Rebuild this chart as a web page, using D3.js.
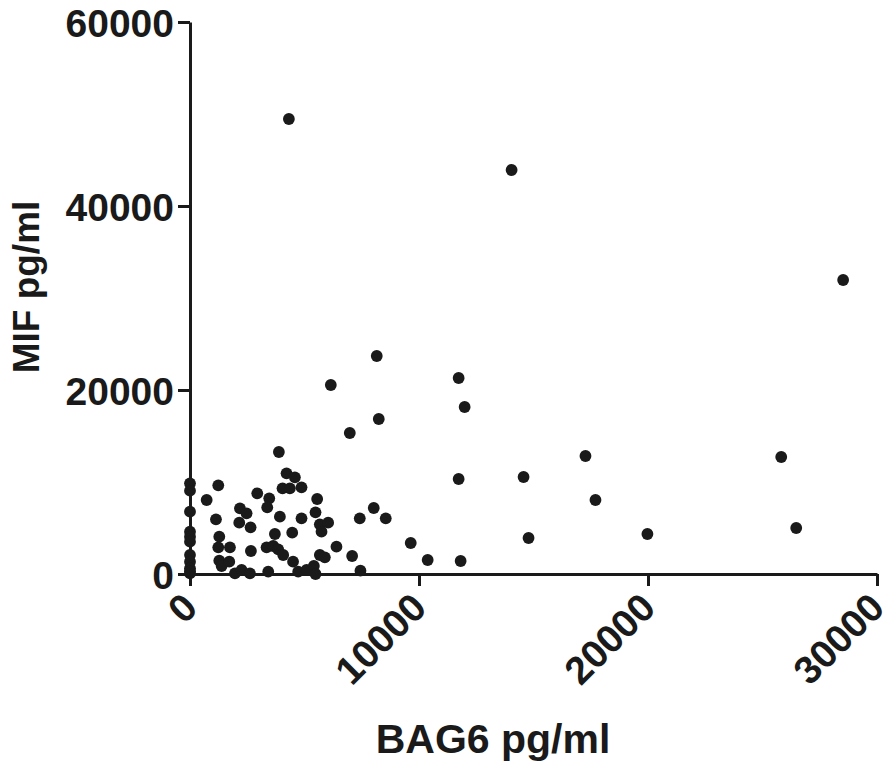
<!DOCTYPE html>
<html>
<head>
<meta charset="utf-8">
<script src="https://cdn.jsdelivr.net/npm/d3@7"></script>
<style>
	body { margin: 0; background: #fff; }
	text { font-family: "Liberation Sans", Arial, sans-serif; font-weight: bold; fill: #1a1a1a; }
</style>
</head>
<body>
<div id="chart"></div>
<script>
// BAG6 (x) and MIF (y), pg/ml
var bag6 = [
	4318, 14043, 28521, 8155, 11731, 6149, 11993, 8243, 6978, 3881,
	17270, 25818, 11731, 14566, 17706, 26472, 19974, 14784, 9638, 10379, 11818,
	1235, 727, 1134, 1279, 1235, 1744, 1279, 1381, 1715, 1963, 2253, 2617, 2660,
	2181, 2471, 2151, 2646, 2937, 3460, 3373, 3925, 3707, 3344, 3634, 3852, 4070, 3416,
	4216, 4580, 4041, 4361, 4870, 4870, 4463, 4500, 4724, 5090, 5408, 5481,
	5553, 5481, 5670, 6033, 5743, 5670, 5888, 6396, 7080, 7443, 7414, 8024, 8548,
	0, 0, 0, 0, 0, 0, 0, 0, 0, 0, 0
];
var mif = [
	49457, 43913, 31957, 23696, 21304, 20543, 18152, 16848, 15326, 13261,
	12826, 12717, 10326, 10543, 8043, 5000, 4348, 3913, 3370, 1522, 1413,
	9638, 8043, 5942, 4058, 2899, 2899, 1449, 870, 1341, 72, 435, 72, 2500,
	7138, 6594, 5580, 5072, 8768, 8225, 7246, 6232, 4348, 2899, 3043, 2681, 2065, 254,
	10942, 10507, 9312, 9312, 9420, 6054, 4493, 1341, 254, 435, 870, 0,
	8152, 6703, 5400, 5580, 4600, 2065, 1812, 2971, 1957, 362, 6054, 7174, 6054,
	9855, 9058, 6775, 4600, 4058, 3514, 2065, 1341, 616, 72, 300
];
var xTicks = [0, 10000, 20000, 30000];
var yTicks = [0, 20000, 40000, 60000];
var xTitle = 'BAG6 pg/ml';
var yTitle = 'MIF pg/ml';

var width = 885, height = 764;
var svg = d3.select('#chart').append('svg')
	.attr('width', width)
	.attr('height', height)

var x = d3.scaleLinear().domain([0, 30000]).range([190, 877]);
var y = d3.scaleLinear().domain([0, 60000]).range([574, 22]);

//axes
var xAxis = svg.append('g')
	.attr('transform', 'translate(0,' + y(0) + ')')
	.call(d3.axisBottom(x).tickValues(xTicks).tickSize(12).tickSizeOuter(0).tickFormat(d3.format('d')))
var yAxis = svg.append('g')
	.attr('transform', 'translate(' + x(0) + ',0)')
	.call(d3.axisLeft(y).tickValues(yTicks).tickSize(12).tickSizeOuter(0).tickFormat(d3.format('d')))

svg.selectAll('.domain, .tick line')
	.attr('stroke', '#1a1a1a')
	.attr('stroke-width', 3)

yAxis.selectAll('text')
	.attr('x', -16)
	.attr('dy', '0.36em')
	.style('font-size', '39px')

xAxis.selectAll('text')
	.attr('text-anchor', 'end')
	.attr('x', 0)
	.attr('y', 0)
	.attr('dy', 0)
	.attr('transform', 'translate(9,36) rotate(-45)') //rough fit to the photo
	.style('font-size', '39px')

svg.selectAll('.tick text').attr('fill', '#1a1a1a')

//dots
svg.append('g').selectAll('circle').data(bag6).enter()
	.append('circle')
	.attr('cx', function(d){ return x(d) })
	.attr('cy', function(d, i){ return y(mif[i]) })
	.attr('r', 5.9)
	.attr('fill', '#1a1a1a')

//titles
svg.append('text')
	.attr('x', 493)
	.attr('y', 753)
	.attr('text-anchor', 'middle')
	.style('font-size', '41px')
	.text(xTitle)
svg.append('text')
	.attr('transform', 'translate(39,287) rotate(-90)')
	.attr('text-anchor', 'middle')
	.style('font-size', '37px')
	.text(yTitle)
</script>
</body>
</html>
